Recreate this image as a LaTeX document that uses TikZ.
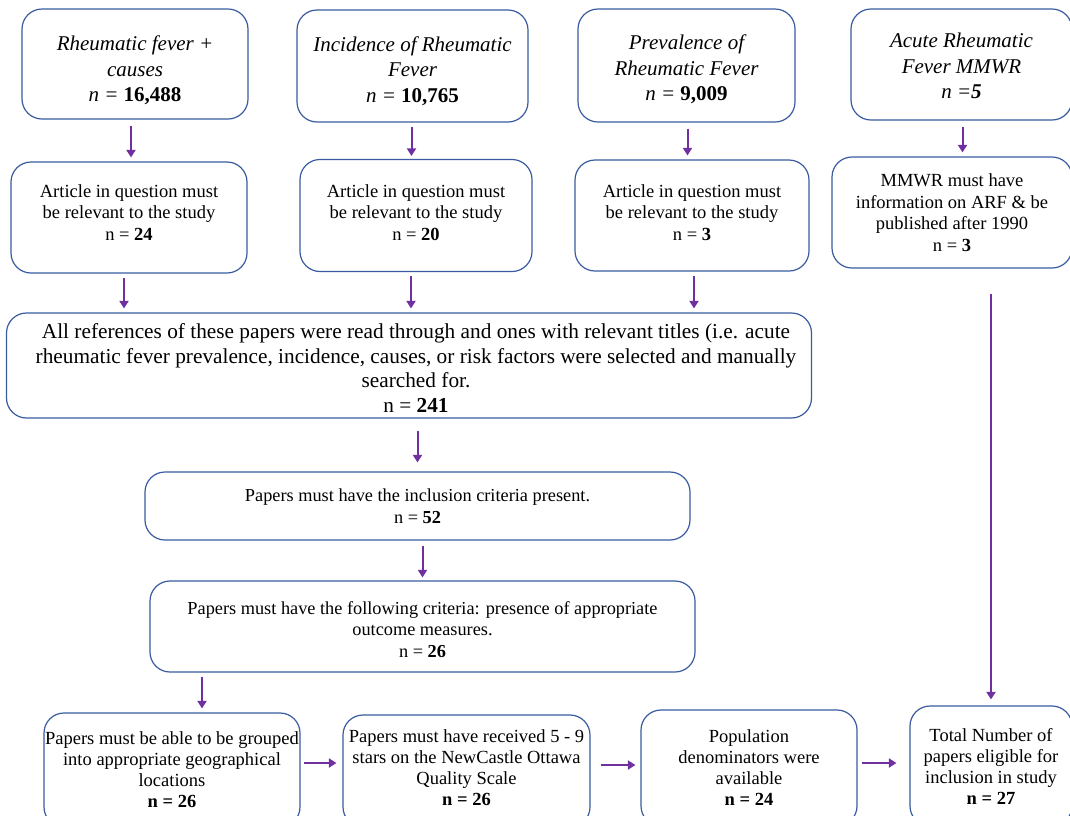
\documentclass[tikz,border=0pt]{standalone}
\usepackage{fontspec}
\setmainfont{Liberation Serif}
\usetikzlibrary{arrows.meta}
\definecolor{boxblue}{HTML}{3A5BA0}
\definecolor{arrpurple}{HTML}{7030A0}
\newcommand\tstrut[1]{\rule{0pt}{#1}}
\tikzset{
  x=1pt,y=-1pt,
  box/.style={draw=boxblue, line width=1.2pt, rounded corners=20pt, align=center, inner sep=0pt, fill=white},
  topbox/.style={box, font=\fontsize{21}{25.5}\selectfont\itshape},
  midbox/.style={box, font=\fontsize{18.5}{21.5}\selectfont},
  bigbox/.style={box, font=\fontsize{21.3}{24.5}\selectfont},
  critbox/.style={box, font=\fontsize{18.3}{21.5}\selectfont},
  lowbox/.style={box, font=\fontsize{18.5}{21}\selectfont},
  arr/.style={draw=arrpurple, line width=2pt, -{Triangle[width=9pt,length=7.5pt]}},
}
\begin{document}
\begin{tikzpicture}
\useasboundingbox (0,0) rectangle (1070,815);
\clip (0,0) rectangle (1070,815);
\fill[white] (0,0) rectangle (1070,815);
% top row
\node[topbox, minimum width=226, minimum height=110] (A) at (135,64) {\tstrut{27.5pt}Rheumatic fever +\\causes\\n = \textbf{\upshape 16,488}};
\node[topbox, minimum width=231, minimum height=112] (B) at (412.5,66) {\tstrut{24.5pt}Incidence of Rheumatic\\Fever\\n = \textbf{\upshape 10,765}};
\node[topbox, minimum width=217, minimum height=113] (C) at (686.5,65.5) {\tstrut{22.5pt}Prevalence of\\Rheumatic Fever\\n = \textbf{\upshape 9,009}};
\node[topbox, minimum width=221, minimum height=111] (D) at (961.5,64.5) {\tstrut{17.5pt}Acute Rheumatic\\Fever MMWR\\n =\textbf{5}};
% second row
\node[midbox, minimum width=236, minimum height=111] (E) at (129,217.5) {Article in question must\\be relevant to the study\\n = \textbf{24}\\[-11pt]};
\node[midbox, minimum width=232, minimum height=112] (F) at (416,215.5) {Article in question must\\be relevant to the study\\n = \textbf{20}\\[-15pt]};
\node[midbox, minimum width=234, minimum height=111] (G) at (692,215.5) {Article in question must\\be relevant to the study\\n = \textbf{3}\\[-15pt]};
\node[midbox, minimum width=240, minimum height=111] (H) at (952,212.5) {MMWR must have\\information on ARF \& be\\published after 1990\\n = \textbf{3}};
% big box
\node[bigbox, minimum width=805, minimum height=105] (I) at (409,365.5) {\hspace*{14pt}\tstrut{19.7pt}All references of these papers were read through and ones with relevant titles (i.e. acute\\\hspace*{14pt}rheumatic fever prevalence, incidence, causes, or risk factors were selected and manually\\\hspace*{14pt}searched for.\\\hspace*{14pt}n = \textbf{241}};
\node[critbox, minimum width=545, minimum height=68] (J) at (417.5,506) {Papers must have the inclusion criteria present.\\n = \textbf{52}};
\node[critbox, minimum width=545, minimum height=91] (K) at (422.5,626.5) {\tstrut{18.6pt}Papers must have the following criteria: presence of appropriate\\outcome measures.\\n = \textbf{26}};
% bottom row
\node[lowbox, minimum width=256, minimum height=114] (L) at (172,770) {Papers must be able to be grouped\\into appropriate geographical\\locations\\\textbf{n = 26}};
\node[lowbox, minimum width=247, minimum height=112] (M) at (466.5,771) {Papers must have received 5 - 9\\stars on the NewCastle Ottawa\\Quality Scale\\\textbf{n = 26}\\[-15pt]};
\node[lowbox, minimum width=216, minimum height=116] (N) at (749,768) {Population\\denominators were\\available\\\textbf{n = 24}};
\node[lowbox, minimum width=162, minimum height=120] (O) at (991,766) {Total Number of\\papers eligible for\\inclusion in study\\\textbf{n = 27}};
% arrows
\draw[arr, shorten <=6, shorten >=4] ([xshift=-4]A.south) -- ([xshift=-4]A.south |- E.north);
\draw[arr, shorten <=4, shorten >=3] ([xshift=-1]B.south) -- ([xshift=-1]B.south |- F.north);
\draw[arr, shorten <=6, shorten >=4] ([xshift=1]C.south) -- ([xshift=1]C.south |- G.north);
\draw[arr, shorten <=6, shorten >=4] ([xshift=1]D.south) -- ([xshift=1]D.south |- H.north);
\draw[arr, shorten <=4, shorten >=4] ([xshift=-5]E.south) -- ([xshift=-5]E.south |- I.north);
\draw[arr, shorten <=4, shorten >=4] ([xshift=-5]F.south) -- ([xshift=-5]F.south |- I.north);
\draw[arr, shorten <=4, shorten >=4] ([xshift=2]G.south) -- ([xshift=2]G.south |- I.north);
\draw[arr, shorten <=12, shorten >=9] (J.north |- I.south) -- (J.north);
\draw[arr, shorten <=5, shorten >=3] (K.north |- J.south) -- (K.north);
\draw[arr, shorten <=4, shorten >=4] ([xshift=30]L.north |- K.south) -- ([xshift=30]L.north);
\draw[arr, shorten <=25, shorten >=6] (O.north |- H.south) -- (O.north);
\draw[arr, shorten <=3, shorten >=6] ([yshift=7]L.east) -- ([yshift=7]L.east -| M.west);
\draw[arr, shorten <=10, shorten >=5] ([yshift=6]M.east) -- ([yshift=6]M.east -| N.west);
\draw[arr, shorten <=4, shorten >=13] ([yshift=5]N.east) -- ([yshift=5]N.east -| O.west);
\end{tikzpicture}
\end{document}
